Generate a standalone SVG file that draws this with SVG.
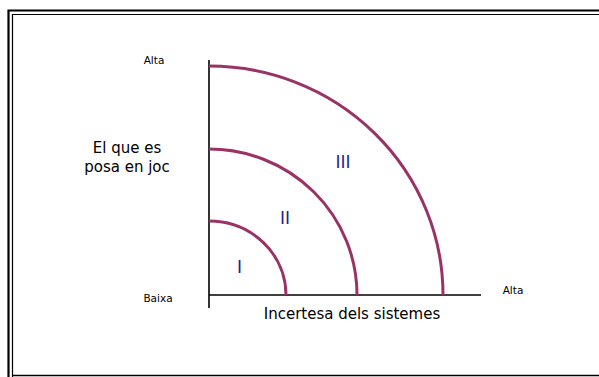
<svg xmlns="http://www.w3.org/2000/svg" width="599" height="377" viewBox="0 0 599 377">
<style>
.frame{fill:none;stroke:#000}
.axis{fill:none;stroke:#000;stroke-width:1.6}
.curve{fill:none;stroke:#993366;stroke-width:3}
.sm{font-family:"DejaVu Sans",Verdana,sans-serif;font-size:10.5px;fill:#000}
.lg{font-family:"DejaVu Sans",Verdana,sans-serif;font-size:15px;fill:#000}
.rn{font-family:"DejaVu Sans",Verdana,sans-serif;font-size:17px;fill:#1f1f8f}
</style>
<rect width="599" height="377" fill="#fff"/>
<g id="frame">
<path class="frame" stroke-width="2.2" d="M8.5,377 V10.5 H599"/>
<path class="frame" stroke-width="1.2" d="M12.5,377 V14.5 H599"/>
<path class="frame" stroke-width="1.4" d="M12.5,375.5 H599"/>
</g>
<g id="axes">
<path class="axis" d="M209,60 V308"/>
<path class="axis" d="M209,295 H481"/>
</g>
<g id="connectors">
<path id="curve-I" class="curve" d="M209,221 A77,74 0 0 1 286,295"/>
<path id="curve-II" class="curve" d="M209,149 A148,146 0 0 1 357,295"/>
<path id="curve-III" class="curve" d="M209,66 A234,229 0 0 1 443,295"/>
</g>
<g id="labels">
<text class="sm" x="154" y="64" text-anchor="middle">Alta</text>
<text class="sm" x="158" y="302" text-anchor="middle">Baixa</text>
<text class="sm" x="513" y="294" text-anchor="middle">Alta</text>
<text class="lg" x="127" y="153" text-anchor="middle">El que es</text>
<text class="lg" x="127" y="172" text-anchor="middle">posa en joc</text>
<text class="lg" x="352" y="319" text-anchor="middle">Incertesa dels sistemes</text>
</g>
<g id="region-I"><text class="rn" x="239.5" y="273" text-anchor="middle">I</text></g>
<g id="region-II"><text class="rn" x="285" y="224" text-anchor="middle">II</text></g>
<g id="region-III"><text class="rn" x="343" y="168" text-anchor="middle">III</text></g>
</svg>
